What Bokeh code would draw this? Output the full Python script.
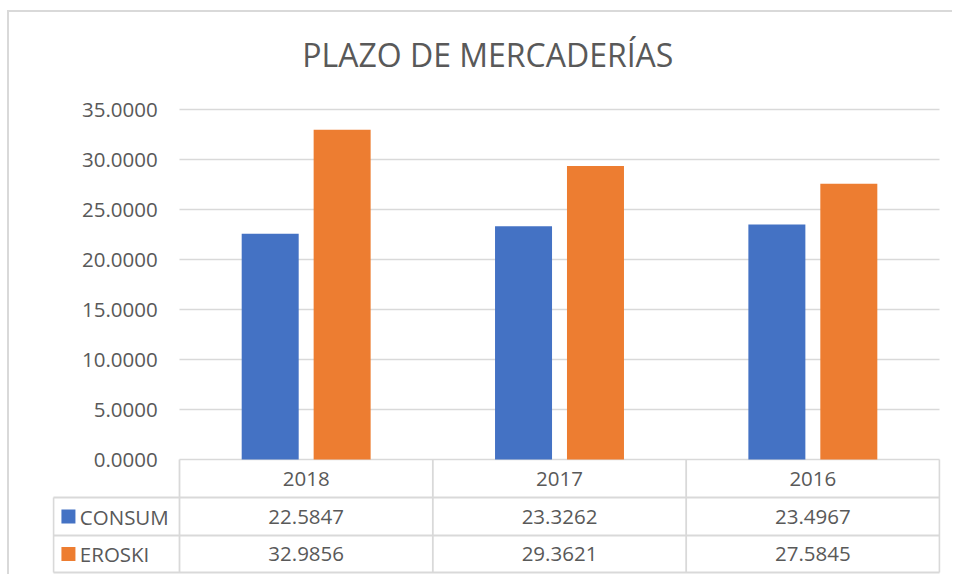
from bokeh.plotting import figure
from bokeh.models import Range1d, ColumnDataSource
from bokeh.embed import file_html
from bokeh.resources import INLINE
from bokeh.core.properties import value
import numpy as np

# ---- data ----
title_text = "PLAZO DE MERCADERÍAS"
years = ["2018", "2017", "2016"]
series_names = ["CONSUM", "EROSKI"]
consum = [22.5847, 23.3262, 23.4967]
eroski = [32.9856, 29.3621, 27.5845]
series_values = [consum, eroski]
colors = ["#4472C4", "#ED7D31"]
y_ticks = [0, 5, 10, 15, 20, 25, 30, 35]

# ---- style / layout constants ----
FONT = "Open Sans"
TXT = "#595959"
GRID = "#d9d9d9"
FS = "20.5px"
n = len(years)
m = len(series_names)
centers = np.arange(n) + 0.5
BAR_W = 0.225
OFFS = [-0.142, 0.142]
LEG_W = 0.4974          # width of the data-table legend column (in category units)
ROW_EDGES = [0.0, -3.8, -7.6, -11.3]   # data-table row boundaries (value units)
LABEL_X = -0.086        # right edge of value-axis labels
TITLE_X = 1.217         # title centre (category units)
TITLE_Y = 40.5          # title vertical centre (value units)

p = figure(width=945, height=564,
           x_range=Range1d(-0.5013, n + 0.0039), y_range=Range1d(-11.6, 44.7),
           output_backend="svg", toolbar_location=None,
           x_axis_type=None, y_axis_type=None,
           min_border_left=43, min_border_right=14, min_border_top=0, min_border_bottom=1,
           styles={"margin-left": "7px", "margin-top": "10px",
                   "border-left": "2px solid #d9d9d9", "border-top": "2px solid #d9d9d9"})
p.outline_line_color = None
p.grid.visible = False

# title
p.text(x=[TITLE_X], y=[TITLE_Y], text=[title_text],
       text_font=value(FONT), text_font_size="32px", text_color=TXT,
       text_align="center", text_baseline="middle")

# value gridlines (y = 0 doubles as the table's top line)
yt = np.array(y_ticks, dtype=float)
p.segment(x0=np.zeros(len(yt)), x1=np.full(len(yt), n), y0=yt, y1=yt,
          line_color=GRID, line_width=1.6)
# value-axis labels
p.text(x=np.full(len(yt), LABEL_X), y=yt, text=[f"{t:.4f}" for t in y_ticks],
       text_font=value(FONT), text_font_size=FS, text_color=TXT,
       text_align="right", text_baseline="middle")

# bars
for vals, col, off in zip(series_values, colors, OFFS):
    src = ColumnDataSource(dict(x=centers + off, top=vals))
    p.vbar(x="x", top="top", bottom=0, width=BAR_W, source=src,
           fill_color=col, line_color=None)

# ---- data table ----
rb = np.array(ROW_EDGES[1:])
p.segment(x0=np.full(len(rb), -LEG_W), x1=np.full(len(rb), n), y0=rb, y1=rb,
          line_color=GRID, line_width=1.8)
cb = np.arange(n + 1, dtype=float)
p.segment(x0=cb, x1=cb, y0=np.zeros(len(cb)), y1=np.full(len(cb), ROW_EDGES[-1]),
          line_color=GRID, line_width=1.8)
p.segment(x0=[-LEG_W], x1=[-LEG_W], y0=[ROW_EDGES[1]], y1=[ROW_EDGES[-1]],
          line_color=GRID, line_width=1.8)

row_mid = [(ROW_EDGES[i] + ROW_EDGES[i + 1]) / 2 for i in range(len(ROW_EDGES) - 1)]
# header (categories)
p.text(x=centers, y=np.full(n, row_mid[0]), text=years,
       text_font=value(FONT), text_font_size=FS, text_color=TXT,
       text_align="center", text_baseline="middle")
# legend column
ser_y = row_mid[1:]
p.scatter(x=np.full(m, -LEG_W + 0.059), y=ser_y, marker="square", size=14,
          fill_color=colors, line_color=None)
p.text(x=np.full(m, -LEG_W + 0.104), y=ser_y, text=series_names,
       text_font=value(FONT), text_font_size=FS, text_color=TXT,
       text_align="left", text_baseline="middle")
# values
cx, cy, ct = [], [], []
for i, vals in enumerate(series_values):
    for c, v in zip(centers, vals):
        cx.append(c); cy.append(ser_y[i]); ct.append(f"{v:.4f}")
p.text(x=cx, y=cy, text=ct, text_font=value(FONT), text_font_size=FS, text_color=TXT,
       text_align="center", text_baseline="middle")

open("out.html", "w").write(file_html(p, INLINE))
